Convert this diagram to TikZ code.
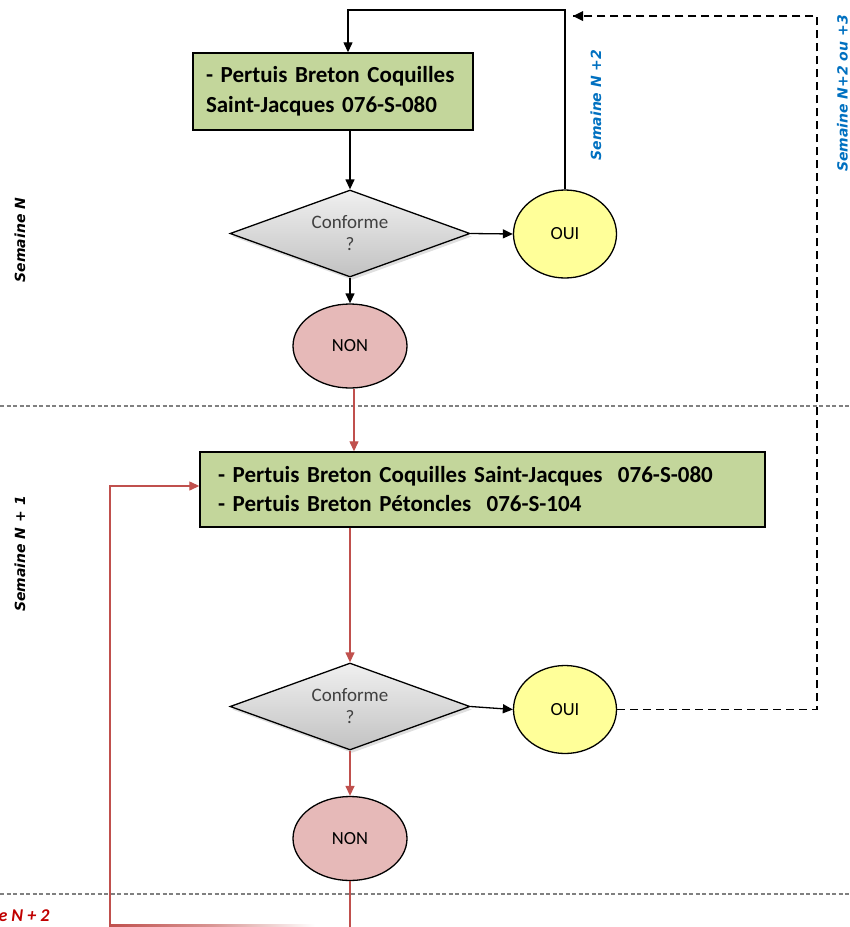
\documentclass[tikz,border=0pt]{standalone}
\usepackage{fontspec}
\setmainfont{Carlito}
\newfontfamily\lblfont{DejaVu Sans}
\usetikzlibrary{arrows.meta,shapes.geometric,shadows,calc}
\definecolor{boxgreen}{HTML}{C3D69B}
\definecolor{linered}{HTML}{C0504D}
\definecolor{nonfill}{HTML}{E6B9B8}
\definecolor{ouifill}{HTML}{FFFF99}
\definecolor{lblblue}{HTML}{0070C0}
\definecolor{lblred}{HTML}{C00000}
\definecolor{sepgray}{HTML}{808080}
\begin{document}
\begin{tikzpicture}[x=1pt,y=-1pt,
  gbox/.style={draw=black, line width=1.4pt, fill=boxgreen, inner sep=0pt, align=left,
     font=\bfseries},
  decide/.style={shape=diamond, draw=black, line width=1.3pt, inner sep=0pt,
     minimum width=240pt, minimum height=87pt, aspect=2.76,
     top color=gray!12, bottom color=gray!48,
     drop shadow={opacity=0.25, shadow xshift=2pt, shadow yshift=-3pt},
     align=center, text=black!75, font=\fontsize{19}{22}\selectfont},
  ouinode/.style={shape=ellipse, draw=black, line width=1.3pt, fill=ouifill, inner sep=0pt,
     minimum width=103pt, minimum height=88pt, font=\fontsize{18.5}{20}\selectfont},
  nonnode/.style={shape=ellipse, draw=black, line width=1.3pt, fill=nonfill, inner sep=0pt,
     minimum width=114pt, minimum height=84pt, font=\fontsize{18.5}{20}\selectfont},
  blkarrow/.style={draw=black, line width=1.3pt, -{Triangle[length=10pt,width=9pt]}},
  redarrow/.style={draw=linered, line width=1.3pt, -{Triangle[length=10pt,width=9pt]}},
  redline/.style={draw=linered, line width=1.3pt},
  sepline/.style={draw=sepgray, line width=1.5pt, dash pattern=on 4pt off 2.5pt},
  dashline/.style={draw=black, line width=1.9pt, dash pattern=on 8pt off 5pt},
  weeklbl/.style={rotate=90, font=\lblfont\bfseries\itshape\fontsize{14}{16}\selectfont}
]
\useasboundingbox (0,0) rectangle (850,927);

% separators
\draw[sepline] (0,406) -- (850,406);
\draw[sepline] (0,894) -- (850,894);

% nodes
\node[gbox, minimum width=280pt, minimum height=77pt, text width=254pt,
      font=\bfseries\fontsize{23}{30}\selectfont] (b1) at (333,91.5)
  {- Pertuis Breton Coquilles\\Saint-Jacques 076-S-080};
\node[decide] (d1) at (350,233.5) {Conforme\\?};
\node[ouinode] (o1) at (565,234) {OUI};
\node[nonnode] (n1) at (350,346) {NON};

\node[gbox, minimum width=565pt, minimum height=75pt, text width=529pt,
      font=\bfseries\fontsize{23}{29}\selectfont] (b2) at (482.5,489.5)
  {- Pertuis Breton Coquilles Saint-Jacques\ \ 076-S-080\\- Pertuis Breton Pétoncles\ \ 076-S-104};
\node[decide] (d2) at (350,706.5) {Conforme\\?};
\node[ouinode] (o2) at (565,709.5) {OUI};
\node[nonnode] (n2) at (350,838.5) {NON};

% coordinates
\coordinate (topL) at (348,10);
\coordinate (topR) at (565,10);
\coordinate (dashB) at (817,709.5);
\coordinate (dashT) at (817,16);
\coordinate (dashEnd) at (573,16);
\coordinate (redB) at (110,927);
\coordinate (redBot) at (350,927);

% connectors
\draw[blkarrow] (o1.north) -- (topR) -- (topL) -- (topL |- b1.north);
\draw[blkarrow] (b1.south -| d1.north) -- (d1.north);
\draw[blkarrow] (d1.east) -- (o1.west);
\draw[blkarrow] (d1.south) -- (n1.north);
\draw[redarrow] ($(n1.south)+(4,0)$) -- ($(n1.south |- b2.north)+(4,0)$);
\draw[redarrow] (b2.south -| d2.north) -- (d2.north);
\draw[blkarrow] (d2.east) -- (o2.west);
\draw[redarrow] (d2.south) -- (n2.north);
\draw[redline] (n2.south) -- (redBot);
\draw[redarrow] (redB) |- ($(b2.west)+(0,-3.5)$);
\shade[left color=linered, right color=white, middle color=linered!60] (109.5,924) rectangle (315,926.5);
\draw[dashline] (o2.east) -- (dashB) -- (dashT) -- (dashEnd);
\fill[black] (dashEnd) ++(0,0) -- ++(10,-5) -- ++(0,10) -- cycle;

% labels
\node[weeklbl] (lN) at (20,240) {Semaine N};
\node[weeklbl] (lN1) at (20,554) {Semaine N + 1};
\node[weeklbl, text=lblblue] (lN2) at (596,105) {Semaine N +2};
\node[weeklbl, text=lblblue, anchor=base east, inner sep=0pt] (lN23) at (847.5,15) {Semaine N+2 ou +3};
\node[anchor=base east, text=lblred, font=\bfseries\itshape\fontsize{18}{20}\selectfont] (lred) at (53,921) {Semaine N + 2};
\end{tikzpicture}
\end{document}
